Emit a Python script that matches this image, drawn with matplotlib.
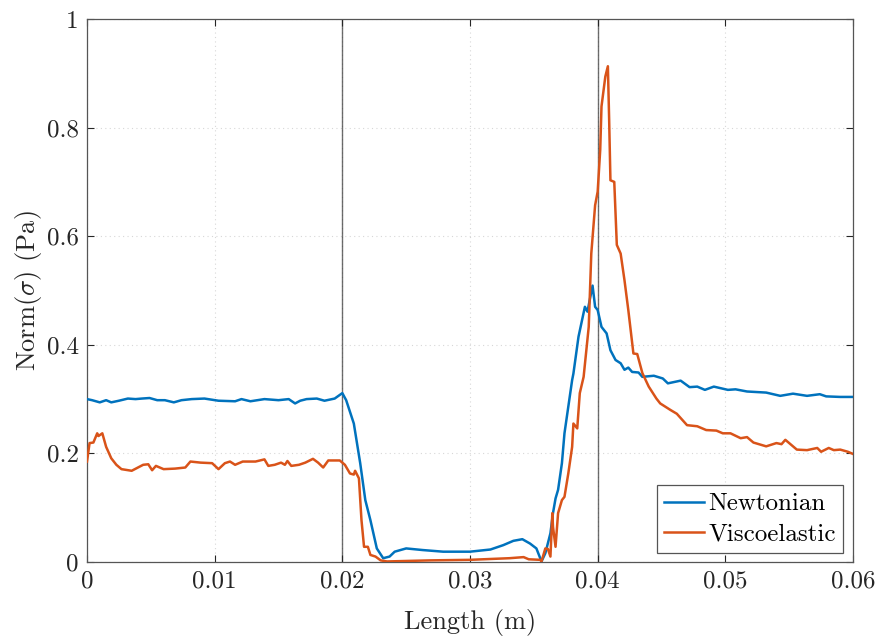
import matplotlib
matplotlib.use("Agg")
import matplotlib.pyplot as plt
from matplotlib.ticker import FuncFormatter

plt.rcParams['font.family'] = 'serif'
plt.rcParams['font.serif'] = ['cmr10']
plt.rcParams['mathtext.fontset'] = 'cm'
plt.rcParams['axes.formatter.use_mathtext'] = True

# ---- data ----
x_newtonian = [
    0.0000, 0.0004, 0.0010, 0.0015, 0.0019, 0.0025, 0.0032, 0.0038, 0.0043, 0.0049,
    0.0055, 0.0061, 0.0068, 0.0074, 0.0082, 0.0092, 0.0103, 0.0116, 0.0121, 0.0128,
    0.0139, 0.0150, 0.0158, 0.0163, 0.0167, 0.0172, 0.0180, 0.0186, 0.0194, 0.0200,
    0.0203, 0.0209, 0.0214, 0.0218, 0.0222, 0.0227, 0.0232, 0.0237, 0.0241, 0.0250,
    0.0263, 0.0279, 0.0300, 0.0316, 0.0326, 0.0334, 0.0341, 0.0347, 0.0352, 0.0356,
    0.0359, 0.0363, 0.0365, 0.0367, 0.0369, 0.0372, 0.0374, 0.0377, 0.0380, 0.0381,
    0.0385, 0.0390, 0.0392, 0.0396, 0.0398, 0.0400, 0.0403, 0.0407, 0.0410, 0.0414,
    0.0418, 0.0421, 0.0424, 0.0427, 0.0432, 0.0435, 0.0444, 0.0451, 0.0455, 0.0465,
    0.0472, 0.0478, 0.0484, 0.0491, 0.0502, 0.0508, 0.0517, 0.0532, 0.0543, 0.0553,
    0.0564, 0.0574, 0.0579, 0.0590, 0.0600,
]
y_newtonian = [
    0.300, 0.298, 0.294, 0.298, 0.294, 0.297, 0.301, 0.300, 0.301, 0.302,
    0.298, 0.298, 0.294, 0.298, 0.300, 0.301, 0.297, 0.296, 0.300, 0.296,
    0.300, 0.298, 0.300, 0.292, 0.297, 0.300, 0.301, 0.297, 0.301, 0.311,
    0.298, 0.255, 0.182, 0.114, 0.077, 0.025, 0.007, 0.010, 0.019, 0.025,
    0.022, 0.019, 0.019, 0.023, 0.031, 0.039, 0.042, 0.034, 0.025, 0.001,
    0.016, 0.053, 0.090, 0.117, 0.133, 0.182, 0.237, 0.286, 0.335, 0.347,
    0.415, 0.470, 0.461, 0.509, 0.470, 0.464, 0.433, 0.421, 0.390, 0.372,
    0.366, 0.354, 0.358, 0.350, 0.349, 0.341, 0.343, 0.338, 0.329, 0.334,
    0.322, 0.323, 0.317, 0.323, 0.317, 0.318, 0.314, 0.312, 0.306, 0.310,
    0.306, 0.309, 0.305, 0.304, 0.304,
]

x_viscoelastic = [
    0.0000, 0.0002, 0.0005, 0.0008, 0.0009, 0.0012, 0.0015, 0.0019, 0.0023, 0.0027,
    0.0035, 0.0044, 0.0048, 0.0051, 0.0054, 0.0060, 0.0069, 0.0077, 0.0081, 0.0089,
    0.0098, 0.0103, 0.0108, 0.0112, 0.0116, 0.0122, 0.0132, 0.0139, 0.0142, 0.0147,
    0.0152, 0.0155, 0.0157, 0.0160, 0.0166, 0.0171, 0.0177, 0.0181, 0.0185, 0.0189,
    0.0198, 0.0202, 0.0206, 0.0209, 0.0210, 0.0213, 0.0215, 0.0217, 0.0220, 0.0222,
    0.0226, 0.0230, 0.0235, 0.0269, 0.0300, 0.0331, 0.0342, 0.0346, 0.0355, 0.0356,
    0.0359, 0.0361, 0.0363, 0.03645, 0.0365, 0.0367, 0.0369, 0.0372, 0.0374, 0.0377,
    0.0380, 0.0381, 0.0384, 0.0386, 0.0389, 0.0393, 0.0395, 0.0398, 0.0400, 0.0402,
    0.0403, 0.0406, 0.0408, 0.0409, 0.0410, 0.0413, 0.0415, 0.0418, 0.0421, 0.0424,
    0.0428, 0.0431, 0.0435, 0.0440, 0.0446, 0.0449, 0.0457, 0.0462, 0.0470, 0.0478,
    0.0485, 0.0493, 0.0498, 0.0504, 0.0512, 0.0517, 0.0522, 0.0532, 0.0540, 0.0544,
    0.0547, 0.0551, 0.0556, 0.0564, 0.0572, 0.0575, 0.0581, 0.0585, 0.0590, 0.0596,
    0.0600,
]
y_viscoelastic = [
    0.185, 0.219, 0.220, 0.237, 0.232, 0.237, 0.212, 0.191, 0.179, 0.171,
    0.168, 0.179, 0.180, 0.169, 0.177, 0.171, 0.172, 0.174, 0.185, 0.183,
    0.182, 0.171, 0.182, 0.185, 0.179, 0.185, 0.185, 0.189, 0.177, 0.179,
    0.183, 0.179, 0.186, 0.177, 0.179, 0.183, 0.190, 0.183, 0.174, 0.187,
    0.187, 0.179, 0.163, 0.161, 0.168, 0.154, 0.077, 0.028, 0.028, 0.013,
    0.010, 0.003, 0.001, 0.003, 0.004, 0.007, 0.009, 0.005, 0.004, 0.001,
    0.025, 0.024, 0.010, 0.090, 0.065, 0.028, 0.090, 0.114, 0.120, 0.163,
    0.212, 0.255, 0.246, 0.311, 0.341, 0.433, 0.568, 0.657, 0.682, 0.759,
    0.839, 0.894, 0.913, 0.814, 0.703, 0.700, 0.584, 0.568, 0.519, 0.464,
    0.384, 0.383, 0.348, 0.323, 0.301, 0.292, 0.280, 0.273, 0.252, 0.250,
    0.243, 0.242, 0.237, 0.237, 0.228, 0.230, 0.220, 0.213, 0.219, 0.217,
    0.225, 0.217, 0.207, 0.206, 0.210, 0.203, 0.210, 0.206, 0.207, 0.203,
    0.199,
]

vlines_x = [0.02, 0.04]
x_ticks = [0, 0.01, 0.02, 0.03, 0.04, 0.05, 0.06]
y_ticks = [0, 0.2, 0.4, 0.6, 0.8, 1.0]
series_labels = ['Newtonian', 'Viscoelastic']

# ---- figure ----
fig = plt.figure(figsize=(8.8, 6.37), dpi=100)
ax = fig.add_axes([87/880, 75/637, 766/880, 543/637])

FS = 18
FS_LABEL = 19
text_col = '#262626'

for xv in vlines_x:
    ax.axvline(xv, color='#6e6e6e', lw=1.0, zorder=1)

ax.plot(x_newtonian, y_newtonian, color='#0072BD', lw=1.8, label=series_labels[0], zorder=3)
ax.plot(x_viscoelastic, y_viscoelastic, color='#D95319', lw=1.8, label=series_labels[1], zorder=3)

ax.set_xlim(0, 0.06)
ax.set_ylim(0, 1)
ax.set_xticks(x_ticks)
ax.set_yticks(y_ticks)
fmt = FuncFormatter(lambda v, p: ('%g' % round(v, 6)))
ax.xaxis.set_major_formatter(fmt)
ax.yaxis.set_major_formatter(fmt)

ax.grid(True, color='#262626', alpha=0.18, linestyle=(0, (1, 3)), lw=0.8)
ax.tick_params(direction='in', top=True, right=True, length=5, width=0.8,
               colors=text_col, labelsize=FS, pad=6)
for s in ax.spines.values():
    s.set_color('#555555')
    s.set_linewidth(0.9)

ax.set_xlabel('Length (m)', fontsize=FS_LABEL, color=text_col, labelpad=12)
ax.set_ylabel(r'Norm($\sigma$) (Pa)', fontsize=FS_LABEL, color=text_col, labelpad=2)

leg = ax.legend(loc='lower right', bbox_to_anchor=(0.987, 0.0166), borderaxespad=0,
                fontsize=18, frameon=True, fancybox=False, framealpha=1,
                edgecolor='#555555', handlelength=1.6, handletextpad=0.15,
                borderpad=0.3, labelspacing=0.3)
leg.get_frame().set_linewidth(0.9)
for t in leg.get_texts():
    t.set_color('black')

fig.savefig('out.png', dpi=100)
